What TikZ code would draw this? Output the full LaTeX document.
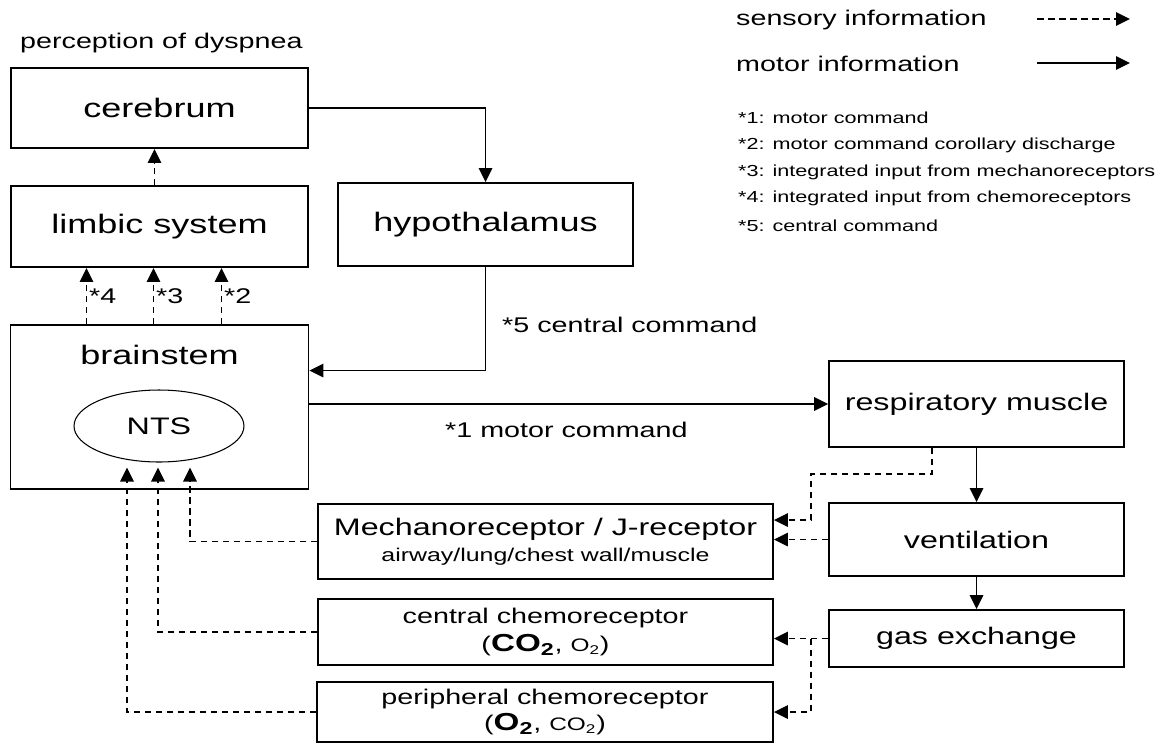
\documentclass[tikz,border=0pt]{standalone}
\usepackage{fontspec}
\setmainfont{Liberation Sans}[FakeStretch=1.35]
\usetikzlibrary{arrows.meta,calc,shapes.geometric}

\begin{document}
\begin{tikzpicture}[x=0.02cm, y=-0.02cm,
		box/.style={draw, line width=1.1pt, inner sep=0pt, align=center},
		motor/.style={line width=0.95pt, -{Triangle[length=0.28cm, width=0.27cm]}},
		sensory/.style={motor, dash pattern=on 0.13cm off 0.09cm},
		big/.style={font=\fontsize{15.2}{18}\selectfont},
		mid/.style={font=\fontsize{13.6}{16}\selectfont},
		lbl/.style={font=\fontsize{12.1}{14}\selectfont},
		note/.style={font=\fontsize{9.1}{11}\selectfont, anchor=west}]
		\useasboundingbox (0,0) rectangle (1155,744);

		\node[lbl, anchor=west] (percep) at (14,43) {perception of dyspnea};
		\node[box, big, minimum width=5.94cm, minimum height=1.6cm] (cereb) at (159.5,108) {cerebrum};
		\node[box, big, minimum width=5.94cm, minimum height=1.62cm] (limbic) at (159.5,226.5) {limbic system};
		\node[box, big, minimum width=5.9cm, minimum height=1.66cm] (hypo) at (485.5,224.5) {hypothalamus};
		\node[box, minimum width=5.96cm, minimum height=3.28cm] (brain) at (159.5,407) {};
		\node[big] (brainlbl) at (159.5,355) {brainstem};
		\node[draw, ellipse, line width=0.6pt, mid, minimum width=3.4cm, minimum height=1.44cm, inner sep=0pt] (nts) at (159,426) {NTS};

		\node[box, mid, minimum width=5.9cm, minimum height=1.72cm] (resp) at (976.5,404) {respiratory muscle};
		\node[box, mid, minimum width=5.9cm, minimum height=1.46cm] (vent) at (976.5,539.5) {ventilation};
		\node[box, mid, minimum width=5.9cm, minimum height=1.14cm] (gas) at (976.5,638.5) {gas exchange};

		\node[box, minimum width=9.1cm, minimum height=1.5cm] (mech) at (545.5,541.5)
			{{\fontsize{13.6}{16}\selectfont Mechanoreceptor / J-receptor}\\[3pt]{\fontsize{10.5}{12}\selectfont airway/lung/chest wall/muscle}};
		\node[box, lbl, minimum width=9.1cm, minimum height=1.32cm] (cchemo) at (545.5,632)
			{central chemoreceptor\\[2pt](\textbf{\fontsize{14}{16}\selectfont CO\textsubscript{2}}, {\fontsize{10.3}{12}\selectfont O\textsubscript{2}})};
		\node[box, lbl, minimum width=9.12cm, minimum height=1.2cm] (pchemo) at (545,712)
			{peripheral chemoreceptor\\[1pt](\textbf{\fontsize{14}{16}\selectfont O\textsubscript{2}}, {\fontsize{10.3}{12}\selectfont CO\textsubscript{2}})};

		\draw[motor] (cereb.east) -| (hypo.north);
		\draw[motor] (hypo.south) |- ($(brain.north east)!0.28!(brain.south east)$);
		\node[lbl, anchor=west] (cmd5) at (496,325) {*5 central command};
		\draw[motor] (brain.east |- resp.west) -- (resp.west);
		\node[lbl, anchor=west] (cmd1) at (439,430) {*1 motor command};
		\draw[motor] (resp) -- (vent);
		\draw[motor] (vent) -- (gas);

		\draw[sensory] ($(limbic.north)+(-5,0)$) -- ($(cereb.south)+(-5,0)$);
		\foreach \dx/\n in {-73/4, -6/3, 62/2}
			\draw[sensory] ($(brain.north)+(\dx,0)$) -- node[lbl, right, inner sep=1pt] (star\n) {*\n} ($(limbic.south)+(\dx,0)$);

		\draw[sensory] (mech.west) -| ($(nts.south)+(31,5)$);
		\draw[sensory] (cchemo.west) -| ($(nts.south)+(-1,5)$);
		\draw[sensory] (pchemo.west) -| ($(nts.south)+(-32,5)$);

		\draw[sensory] ($(resp.south)+(-44.5,0)$) -- ++(0,26) -| ($(mech.east)+(37,-21.5)$) -- ($(mech.east)+(0,-21.5)$);
		\draw[sensory] (vent.west) -- (mech.east |- vent.west);
		\draw[sensory] (gas.west) -- (cchemo.east |- gas.west);
		\draw[sensory] ($(cchemo.east |- gas.west)+(37,0)$) |- (pchemo.east);

		\node[lbl, anchor=west] (senslbl) at (730,20) {sensory information};
		\node[lbl, anchor=west] (motlbl) at (730,64) {motor information};
		\coordinate (sensA) at (1037,19);
		\coordinate (sensB) at (1130,19);
		\coordinate (motA) at (1037,63);
		\coordinate (motB) at (1130,63);
		\draw[sensory] (sensA) -- (sensB);
		\draw[motor] (motA) -- (motB);

		\foreach \y/\txt [count=\i] in {118/motor command, 145/motor command corollary discharge, 172/integrated input from mechanoreceptors, 198/integrated input from chemoreceptors, 226/central command}
			\node[note] (note\i) at (732,\y) {*\i: \txt};
	\end{tikzpicture}
\end{document}
